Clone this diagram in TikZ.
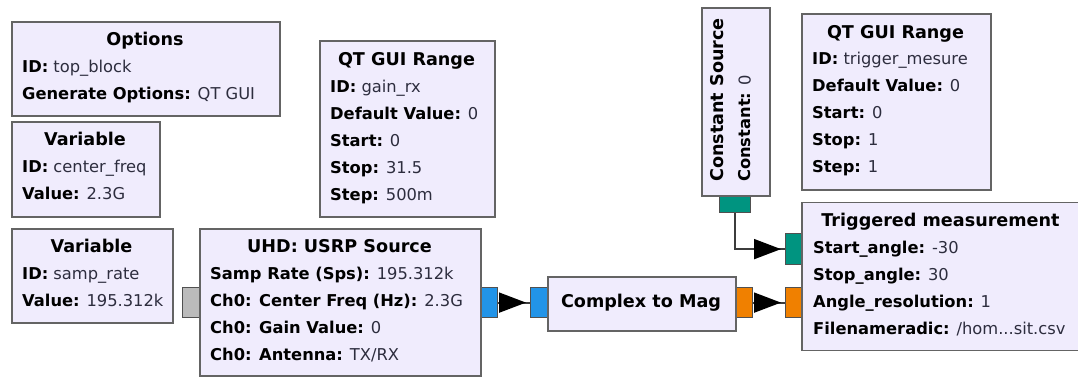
\documentclass[tikz,border=0pt]{standalone}
\usepackage{fontspec}
\setmainfont{DejaVu Sans}
\usetikzlibrary{arrows.meta,calc}
\definecolor{blkfill}{RGB}{240,236,253}
\definecolor{bordcol}{RGB}{100,100,100}
\definecolor{portbord}{RGB}{80,80,80}
\definecolor{valcol}{RGB}{45,45,62}
\definecolor{wirecol}{RGB}{60,60,60}
\definecolor{pblue}{RGB}{34,148,232}
\definecolor{porange}{RGB}{240,128,0}
\definecolor{pteal}{RGB}{0,148,128}
\definecolor{pgray}{RGB}{187,187,187}
\newcommand\titlefont{\fontsize{17.6}{20}\selectfont\bfseries}
\newcommand\bodyfont{\fontsize{16.3}{20}\selectfont}
\newcommand\kn[1]{\textcolor{black}{\bfseries #1}}
\tikzset{
  blk/.style={draw=bordcol, line width=1.5pt, fill=blkfill, inner sep=0pt, anchor=north west, minimum width=#1},
  port/.style={draw=portbord, line width=1.2pt, inner sep=0pt, anchor=north west},
  ttl/.style={font=\titlefont, text=black, anchor=base, inner sep=0pt},
  lbl/.style={font=\bodyfont, text=valcol, anchor=base west, inner sep=0pt},
  wire/.style={draw=wirecol, line width=1.8pt},
  head/.style={wire, -{Triangle[length=27pt,width=20pt,color=black]}, shorten >=4pt}
}
\begin{document}
\begin{tikzpicture}[x=1pt,y=-1pt]
\useasboundingbox (0,0) rectangle (1078,376);
% ports (drawn first)
\node[port, fill=pgray, minimum width=17pt, minimum height=30pt] (uin) at (182,287) {};
\node[port, fill=pblue, minimum width=17pt, minimum height=30pt] (uout) at (480,287) {};
\node[port, fill=pblue, minimum width=17pt, minimum height=30pt] (cin) at (530,287) {};
\node[port, fill=porange, minimum width=17pt, minimum height=30pt] (cout) at (735,287) {};
\node[port, fill=pteal, minimum width=16pt, minimum height=31pt] (tin1) at (785,233) {};
\node[port, fill=porange, minimum width=16pt, minimum height=30pt] (tin2) at (785,287) {};
\node[port, fill=pteal, minimum width=31pt, minimum height=17pt] (kout) at (719,195) {};
% Options
\node[blk=268pt, minimum height=94pt] (opt) at (11,21) {};
\node[ttl] (opt-t) at (145,45.5) {Options};
\node[lbl] (opt-1) at (22,72.3) {\kn{ID:} top\_block};
\node[lbl] (opt-2) at (22,99.2) {\kn{Generate Options:} QT GUI};
% Variable center_freq
\node[blk=148pt, minimum height=95pt] (vcf) at (11,121) {};
\node[ttl] (vcf-t) at (85,145.7) {Variable};
\node[lbl] (vcf-1) at (22,172.5) {\kn{ID:} center\_freq};
\node[lbl] (vcf-2) at (22,199.4) {\kn{Value:} 2.3G};
% Variable samp_rate
\node[blk=161pt, minimum height=94pt] (vsr) at (11,228) {};
\node[ttl] (vsr-t) at (91.5,252.7) {Variable};
\node[lbl] (vsr-1) at (22,279.5) {\kn{ID:} samp\_rate};
\node[lbl] (vsr-2) at (22,306.4) {\kn{Value:} 195.312k};
% USRP source
\node[blk=281pt, minimum height=147pt] (usrp) at (199,228) {};
\node[ttl] (usrp-t) at (339.5,252.7) {UHD: USRP Source};
\node[lbl] (usrp-1) at (210,279.5) {\kn{Samp Rate (Sps):} 195.312k};
\node[lbl] (usrp-2) at (210,306.4) {\kn{Ch0: Center Freq (Hz):} 2.3G};
\node[lbl] (usrp-3) at (210,333.2) {\kn{Ch0: Gain Value:} 0};
\node[lbl] (usrp-4) at (210,360.1) {\kn{Ch0: Antenna:} TX/RX};
% QT GUI Range gain_rx
\node[blk=175pt, minimum height=176pt] (qg) at (319,40) {};
\node[ttl] (qg-t) at (406.5,65.7) {QT GUI Range};
\node[lbl] (qg-1) at (330,92.6) {\kn{ID:} gain\_rx};
\node[lbl] (qg-2) at (330,119.4) {\kn{Default Value:} 0};
\node[lbl] (qg-3) at (330,146.3) {\kn{Start:} 0};
\node[lbl] (qg-4) at (330,173.1) {\kn{Stop:} 31.5};
\node[lbl] (qg-5) at (330,200) {\kn{Step:} 500m};
% Complex to Mag
\node[blk=188pt, minimum height=54pt] (c2m) at (547,276) {};
\node[ttl] (c2m-t) at (641,307) {Complex to Mag};
% Constant Source
\node[blk=68pt, minimum height=188pt] (ks) at (701,7) {};
\node[ttl, rotate=90] (ks-t) at (723.5,100) {Constant Source};
\node[lbl, rotate=90] (ks-1) at (750.5,182) {\kn{Constant:} 0};
% QT GUI Range trigger
\node[blk=189pt, minimum height=176pt] (qt) at (801,13) {};
\node[ttl] (qt-t) at (895.5,38) {QT GUI Range};
\node[lbl] (qt-1) at (812,64.9) {\kn{ID:} trigger\_mesure};
\node[lbl] (qt-2) at (812,91.7) {\kn{Default Value:} 0};
\node[lbl] (qt-3) at (812,118.5) {\kn{Start:} 0};
\node[lbl] (qt-4) at (812,145.4) {\kn{Stop:} 1};
\node[lbl] (qt-5) at (812,172.2) {\kn{Step:} 1};
% Triggered measurement
\node[blk=279pt, minimum height=148pt] (tm) at (801,201.7) {};
\node[ttl] (tm-t) at (940.5,226.7) {Triggered measurement};
\node[lbl] (tm-1) at (813,253.5) {\kn{Start\_angle:} -30};
\node[lbl] (tm-2) at (813,280.4) {\kn{Stop\_angle:} 30};
\node[lbl] (tm-3) at (813,307.2) {\kn{Angle\_resolution:} 1};
\node[lbl] (tm-4) at (813,334.1) {\kn{Filenameradic:} /hom...sit.csv};
% connectors
\draw[wire] (uout.east) -- (cin.west);
\draw[head] (uout.east) -- (cin.west);
\draw[wire] (cout.east) -- (tin2.west);
\draw[head] (cout.east) -- (tin2.west);
\draw[wire] (kout.south) |- (tin1.west);
\draw[head] (kout.south) |- (tin1.west);
\end{tikzpicture}
\end{document}
